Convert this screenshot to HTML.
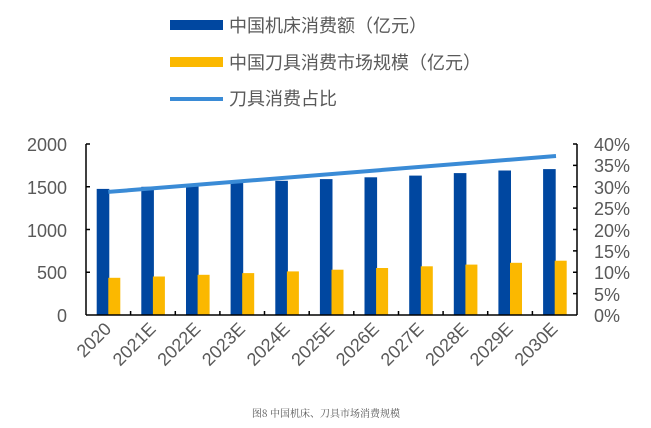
<!DOCTYPE html>
<html><head><meta charset="utf-8"><style>
body{margin:0;background:#fff;}
svg{display:block;font-family:"Liberation Sans","Noto Sans CJK SC",sans-serif;}
</style></head><body>
<svg width="651" height="428" viewBox="0 0 651 428" xmlns="http://www.w3.org/2000/svg">
<rect width="651" height="428" fill="#fff"/>
<rect x="170" y="20" width="53" height="10" fill="#0047A0"/>
<text x="229" y="32" font-size="18" fill="#595959">中国机床消费额（亿元）</text>
<rect x="170" y="57" width="53" height="10" fill="#FBB800"/>
<text x="229" y="69" font-size="18" fill="#595959">中国刀具消费市场规模（亿元）</text>
<line x1="170" y1="99" x2="223" y2="99" stroke="#3A8BD6" stroke-width="4"/>
<text x="229" y="105" font-size="18" fill="#595959">刀具消费占比</text>
<g fill="#0047A0">
<rect x="96.7" y="188.9" width="12.6" height="126.1"/>
<rect x="141.3" y="186.8" width="12.6" height="128.2"/>
<rect x="186.0" y="185.0" width="12.6" height="130"/>
<rect x="230.6" y="182.5" width="12.6" height="132.5"/>
<rect x="275.3" y="180.8" width="12.6" height="134.2"/>
<rect x="319.9" y="179.1" width="12.6" height="135.9"/>
<rect x="364.5" y="177.3" width="12.6" height="137.7"/>
<rect x="409.2" y="175.6" width="12.6" height="139.4"/>
<rect x="453.8" y="173.1" width="12.6" height="141.9"/>
<rect x="498.4" y="170.5" width="12.6" height="144.5"/>
<rect x="543.1" y="169.1" width="12.6" height="145.9"/>
</g>
<g fill="#FBB800">
<rect x="108.3" y="277.8" width="12" height="37.2"/>
<rect x="152.9" y="276.5" width="12" height="38.5"/>
<rect x="197.6" y="274.8" width="12" height="40.2"/>
<rect x="242.2" y="273.1" width="12" height="41.9"/>
<rect x="286.9" y="271.4" width="12" height="43.6"/>
<rect x="331.5" y="269.7" width="12" height="45.3"/>
<rect x="376.1" y="268.0" width="12" height="47"/>
<rect x="420.8" y="266.3" width="12" height="48.7"/>
<rect x="465.4" y="264.6" width="12" height="50.4"/>
<rect x="510.0" y="262.8" width="12" height="52.2"/>
<rect x="554.7" y="260.7" width="12" height="54.3"/>
</g>
<line x1="108.3" y1="191.9" x2="556" y2="156" stroke="#3A8BD6" stroke-width="4"/>
<g stroke="#000" stroke-width="1.5" fill="none">
<line x1="86" y1="144" x2="86" y2="315"/>
<line x1="577" y1="144" x2="577" y2="315"/>
<line x1="86" y1="315" x2="577" y2="315"/>
<path d="M130.6 315v-4M175.3 315v-4M219.9 315v-4M264.5 315v-4M309.2 315v-4M353.8 315v-4M398.5 315v-4M443.1 315v-4M487.7 315v-4M532.4 315v-4"/>
<path d="M86 144h4M86 186.75h4M86 229.5h4M86 272.25h4"/>
<path d="M573 144h4M573 165.4h4M573 186.75h4M573 208.1h4M573 229.5h4M573 250.9h4M573 272.25h4M573 293.6h4"/>
</g>
<g font-size="18" fill="#595959" text-anchor="end">
<text x="67" y="151">2000</text><text x="67" y="194">1500</text><text x="67" y="237">1000</text><text x="67" y="279">500</text><text x="67" y="322">0</text>
</g>
<g font-size="18" fill="#595959">
<text x="594" y="151">40%</text><text x="594" y="172">35%</text><text x="594" y="194">30%</text><text x="594" y="215">25%</text><text x="594" y="237">20%</text><text x="594" y="258">15%</text><text x="594" y="279">10%</text><text x="594" y="301">5%</text><text x="594" y="322">0%</text>
</g>
<g font-size="18" fill="#595959" text-anchor="end">
<text transform="translate(112.3,330) rotate(-45)">2020</text>
<text transform="translate(156.9,330) rotate(-45)">2021E</text>
<text transform="translate(201.6,330) rotate(-45)">2022E</text>
<text transform="translate(246.2,330) rotate(-45)">2023E</text>
<text transform="translate(290.9,330) rotate(-45)">2024E</text>
<text transform="translate(335.5,330) rotate(-45)">2025E</text>
<text transform="translate(380.1,330) rotate(-45)">2026E</text>
<text transform="translate(424.8,330) rotate(-45)">2027E</text>
<text transform="translate(469.4,330) rotate(-45)">2028E</text>
<text transform="translate(514.0,330) rotate(-45)">2029E</text>
<text transform="translate(558.7,330) rotate(-45)">2030E</text>
</g>
<text x="326" y="417" font-size="10" fill="#555" text-anchor="middle" font-family="'Noto Serif CJK SC',serif">图8 中国机床、刀具市场消费规模</text>
</svg>
</body></html>
